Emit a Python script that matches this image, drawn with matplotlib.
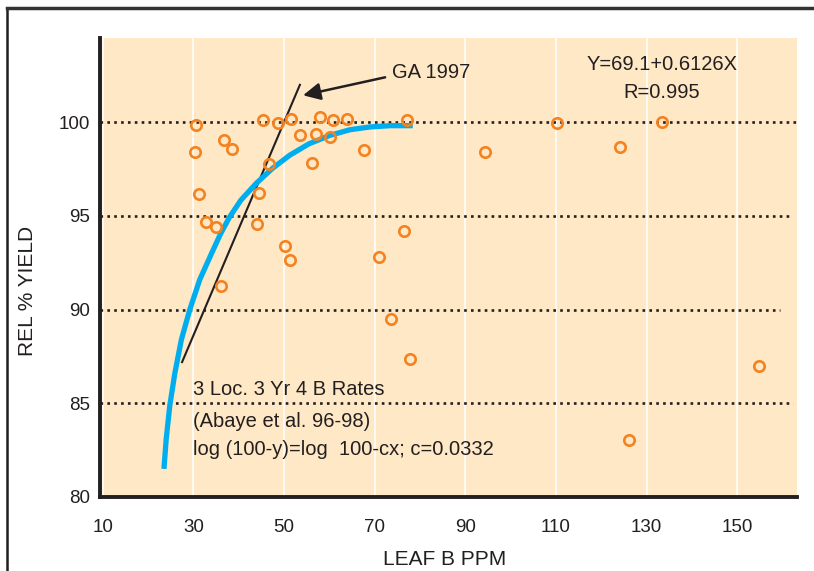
import numpy as np
import matplotlib
matplotlib.use("Agg")
import matplotlib.pyplot as plt
from matplotlib.lines import Line2D

plt.rcParams['font.family'] = ['Liberation Sans', 'DejaVu Sans']

# observed data (leaf B ppm vs relative % yield)
leaf_b = [30.5, 30.3, 31.3, 32.7, 34.9, 36.7, 38.5, 36.2, 45.3, 48.6,
          51.5, 46.6, 44.5, 44.1, 50.2, 51.3, 53.6, 57.0, 58.0, 60.8,
          60.1, 56.1, 63.9, 67.6, 77.2, 76.4, 70.9, 73.6, 77.8, 94.3,
          110.3, 124.1, 133.4, 154.8, 126.1]
rel_yield = [99.84, 98.42, 96.19, 94.66, 94.43, 99.08, 98.56, 91.28, 100.1, 99.98,
             100.18, 97.80, 96.22, 94.56, 93.40, 92.64, 99.31, 99.35, 100.28, 100.14,
             99.22, 97.84, 100.2, 98.51, 100.14, 94.20, 92.8, 89.5, 87.34, 98.40,
             99.97, 98.66, 100.0, 86.98, 83.02]

# fitted curve
curve_x = [23.5, 24.0, 24.8, 25.9, 27.35, 29.2, 31.4, 34.0, 36.0, 38.0,
           40.5, 43.9, 47.5, 51.3, 55.5, 60.1, 64.5, 68.9, 73.5, 78.4]
curve_y = [81.5, 83.1, 84.9, 86.6, 88.4, 90.0, 91.6, 93.0, 94.05, 94.95,
           95.85, 96.75, 97.55, 98.25, 98.85, 99.3, 99.6, 99.75, 99.82, 99.82]

# GA 1997 line
ga_x = [27.5, 53.5]
ga_y = [87.2, 102.0]

xticks = [10, 30, 50, 70, 90, 110, 130, 150]
yticks = [80, 85, 90, 95, 100]
ref_levels = [85, 90, 95, 100]
ref_ends = [162.3, 159.4, 162.1, 163.2]

ink = '#231f20'
orange = '#f58220'
blue = '#00aeef'

fig = plt.figure(figsize=(8.14, 5.71), dpi=100)
ax = fig.add_axes([0.1229, 0.1296, 0.8563, 0.8039])
ax.set_facecolor('#fee8c5')

ax.set_xlim(9.4, 163.2)
ax.set_ylim(80, 104.5)

ax.set_xticks(xticks)
ax.set_yticks(yticks)
ax.tick_params(length=0, labelsize=13.5, colors=ink)
ax.tick_params(axis='x', pad=16)
ax.tick_params(axis='y', pad=7)

ax.xaxis.grid(True, color='white', linewidth=1.1)
ax.yaxis.grid(False)
ax.set_axisbelow(True)

for s in ['top', 'right']:
    ax.spines[s].set_visible(False)
for s in ['left', 'bottom']:
    ax.spines[s].set_linewidth(2.8)
    ax.spines[s].set_color(ink)

# dotted reference lines
for lev, xe in zip(ref_levels, ref_ends):
    ax.plot([9.4, xe], [lev, lev], color=ink, linestyle=(0, (1, 1.6)),
            linewidth=1.9, zorder=2)

ax.plot(ga_x, ga_y, color=ink, linewidth=1.5, zorder=3)
ax.plot(curve_x, curve_y, color=blue, linewidth=3.8, solid_capstyle='butt',
        solid_joinstyle='round', zorder=4)
ax.plot(leaf_b, rel_yield, linestyle='none', marker='o', markersize=7.5,
        markerfacecolor='none', markeredgecolor=orange, markeredgewidth=1.9, zorder=5)

ax.annotate('', xy=(54.2, 101.44), xytext=(72.3, 102.4),
            arrowprops=dict(arrowstyle='-|>', color=ink, lw=1.8, mutation_scale=26,
                            shrinkA=0, shrinkB=0))
ax.text(73.8, 102.66, 'GA 1997', fontsize=14.5, color=ink, va='center', ha='left')

ax.text(133.4, 103.1, 'Y=69.1+0.6126X', fontsize=14.5, color=ink, ha='center', va='center')
ax.text(133.4, 101.6, 'R=0.995', fontsize=14.5, color=ink, ha='center', va='center')

ax.text(29.9, 85.74, '3 Loc. 3 Yr 4 B Rates', fontsize=14.5, color=ink, va='center')
ax.text(29.9, 84.04, '(Abaye et al. 96-98)', fontsize=14.5, color=ink, va='center')
ax.text(29.9, 82.55, 'log (100-y)=log  100-cx; c=0.0332', fontsize=14.5, color=ink, va='center')

ax.set_xlabel('LEAF B PPM', fontsize=15, color=ink)
ax.set_ylabel('REL % YIELD', fontsize=15, color=ink)
ax.xaxis.set_label_coords(0.494, -0.115)
ax.yaxis.set_label_coords(-0.090, 0.449)

# page frame (left and top edges)
fig.add_artist(Line2D([7 / 814, 7 / 814], [0, 1 - 8 / 571], color=ink, linewidth=1.8))
fig.add_artist(Line2D([7 / 814, 1], [1 - 8 / 571, 1 - 8 / 571], color='#333333', linewidth=2.5))

fig.savefig('out.png', dpi=100)
